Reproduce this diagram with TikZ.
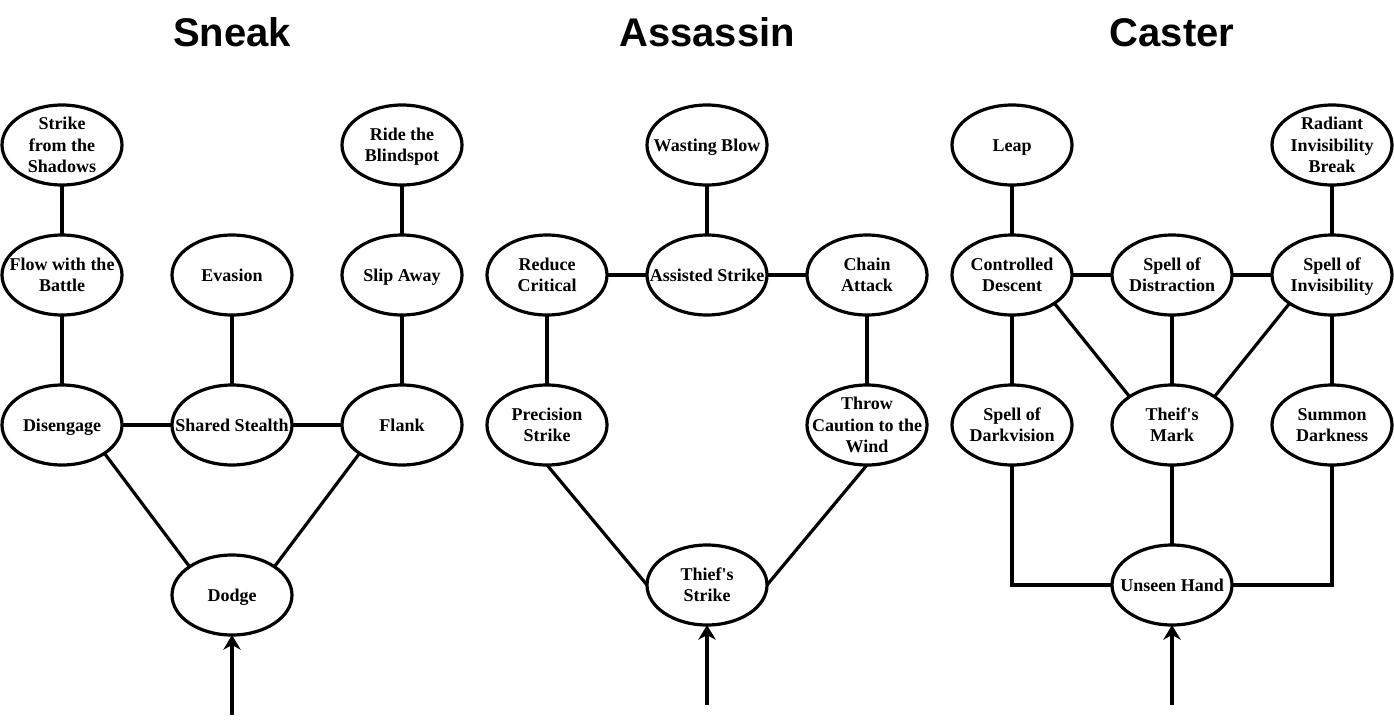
\documentclass[tikz,border=0pt]{standalone}
\usepackage{fontspec}
\setmainfont{Liberation Serif}
\newfontfamily\lblfont{Liberation Serif}[Ligatures=TeXOff]
\newfontfamily\titlefont{Liberation Sans}
\usetikzlibrary{shapes.geometric,arrows.meta}
\newcommand\lnstrut{\rule[-0.216em]{0pt}{1.107em}}
\newcommand\skillnode[3]{%
  \node[skill] (#1) at #2 {};
  \node[lbl] (#1-t) at (#1) {\lnstrut #3\lnstrut};}
\begin{document}
\begin{tikzpicture}[x=0.75pt,y=-0.75pt,
  skill/.style={ellipse,draw,line width=2.4pt,minimum width=90pt,minimum height=60pt,inner sep=0pt,outer sep=0pt},
  lbl/.style={align=center,inner sep=0pt,font=\lblfont\fontsize{13.5pt}{16.2pt}\selectfont\bfseries},
  title/.style={anchor=base,inner sep=0pt,font=\titlefont\fontsize{30pt}{36pt}\selectfont\bfseries},
  link/.style={line width=2.4pt},
  entry/.style={line width=2.4pt,-{Stealth[length=11pt,width=13pt,inset=3.5pt]}}
]
\useasboundingbox (0,0) rectangle (1394,725);

% titles
\node[title] (t1) at (232,46.5) {Sneak};
\node[title] (t2) at (707,46.5) {Assassin};
\node[title] (t3) at (1172,46.5) {Caster};

% Sneak
\skillnode{s1}{(62,145)}{Strike\\from the\\Shadows}
\skillnode{s2}{(402,145)}{Ride the\\Blindspot}
\skillnode{s3}{(62,275)}{Flow with the\\Battle}
\skillnode{s4}{(232,275)}{Evasion}
\skillnode{s5}{(402,275)}{Slip Away}
\skillnode{s6}{(62,425)}{Disengage}
\skillnode{s7}{(232,425)}{Shared Stealth}
\skillnode{s8}{(402,425)}{Flank}
\skillnode{s9}{(232,595)}{Dodge}
\coordinate (s0) at (232,715);

\draw[link] (s1) -- (s3);
\draw[link] (s3) -- (s6);
\draw[link] (s4) -- (s7);
\draw[link] (s2) -- (s5);
\draw[link] (s5) -- (s8);
\draw[link] (s6) -- (s7);
\draw[link] (s7) -- (s8);
\draw[link] (s6.south east) -- (s9.north west);
\draw[link] (s8.south west) -- (s9.north east);
\draw[entry] (s0) -- (s9.south);

% Assassin
\skillnode{a1}{(707,145)}{Wasting Blow}
\skillnode{a2}{(547,275)}{Reduce\\Critical}
\skillnode{a3}{(707,275)}{Assisted Strike}
\skillnode{a4}{(867,275)}{Chain\\Attack}
\skillnode{a5}{(547,425)}{Precision\\Strike}
\skillnode{a6}{(867,425)}{Throw\\Caution to the\\Wind}
\skillnode{a7}{(707,585)}{Thief's\\Strike}
\coordinate (a0) at (707,705);

\draw[link] (a1) -- (a3);
\draw[link] (a2) -- (a3);
\draw[link] (a3) -- (a4);
\draw[link] (a2) -- (a5);
\draw[link] (a4) -- (a6);
\draw[link] (a5.south) -- (a7.west);
\draw[link] (a6.south) -- (a7.east);
\draw[entry] (a0) -- (a7.south);

% Caster
\skillnode{c1}{(1012,145)}{Leap}
\skillnode{c2}{(1332,145)}{Radiant\\Invisibility\\Break}
\skillnode{c3}{(1012,275)}{Controlled\\Descent}
\skillnode{c4}{(1172,275)}{Spell of\\Distraction}
\skillnode{c5}{(1332,275)}{Spell of\\Invisibility}
\skillnode{c6}{(1012,425)}{Spell of\\Darkvision}
\skillnode{c7}{(1172,425)}{Theif's\\Mark}
\skillnode{c8}{(1332,425)}{Summon\\Darkness}
\skillnode{c9}{(1172,585)}{Unseen Hand}
\coordinate (c0) at (1172,705);

\draw[link] (c1) -- (c3);
\draw[link] (c2) -- (c5);
\draw[link] (c3) -- (c4);
\draw[link] (c4) -- (c5);
\draw[link] (c3) -- (c6);
\draw[link] (c4) -- (c7);
\draw[link] (c5) -- (c8);
\draw[link] (c3.south east) -- (c7.north west);
\draw[link] (c5.south west) -- (c7.north east);
\draw[link] (c7) -- (c9);
\draw[link] (c6.south) |- (c9.west);
\draw[link] (c8.south) |- (c9.east);
\draw[entry] (c0) -- (c9.south);
\end{tikzpicture}
\end{document}
